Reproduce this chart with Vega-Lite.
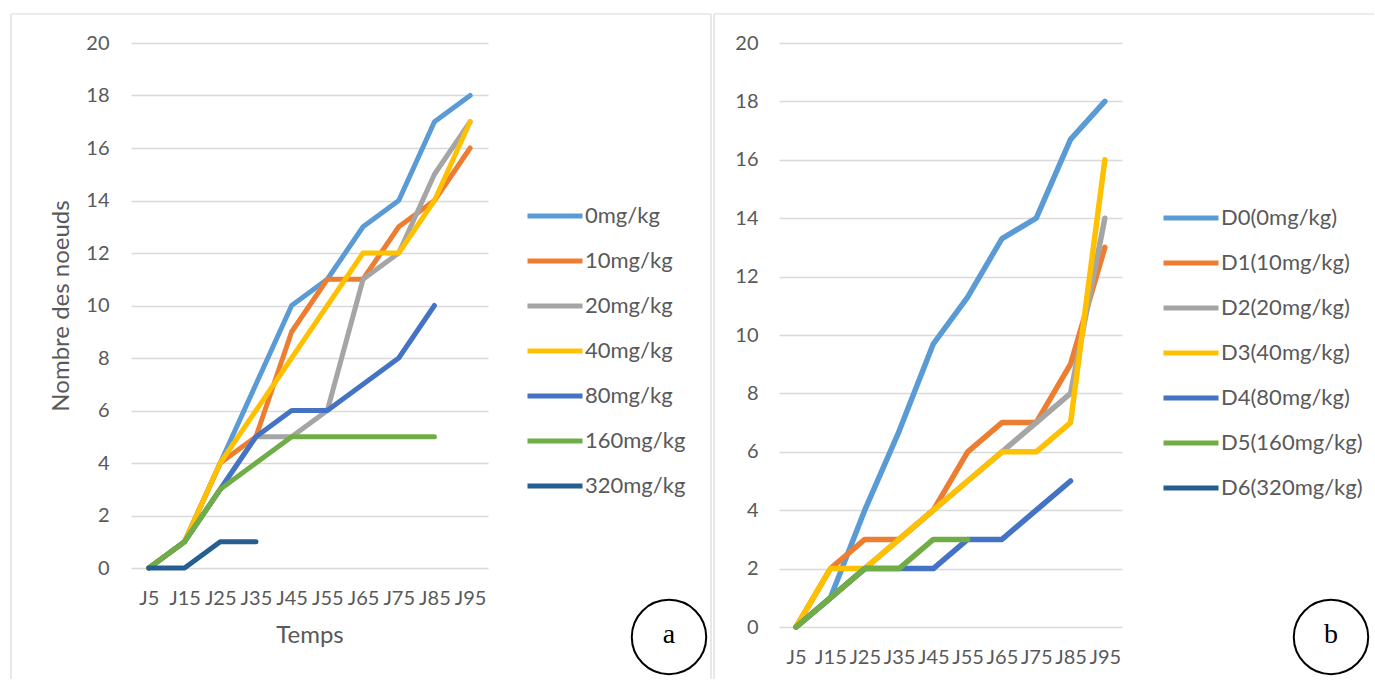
{
  "$schema": "https://vega.github.io/schema/vega-lite/v6.json",
  "background": "white",
  "padding": {"left": 10, "top": 13, "right": 0, "bottom": 0},
  "bounds": "flush",
  "spacing": 291,
  "config": {
    "view": {"stroke": null},
    "axis": {
      "labelFont": "Lato", "labelFontSize": 20, "labelColor": "#595959",
      "titleFont": "Lato", "titleFontSize": 24, "titleColor": "#595959", "titleFontWeight": "normal",
      "gridColor": "#d9d9d9", "gridWidth": 1.3, "ticks": false, "domain": false
    },
    "legend": {
      "orient": "none", "title": null, "symbolType": "stroke", "symbolSize": 3025,
      "symbolStrokeWidth": 5, "labelFont": "Lato", "labelFontSize": 22, "labelColor": "#595959",
      "labelOffset": 0, "padding": 0, "rowPadding": 4
    },
    "line": {"strokeCap": "round", "strokeJoin": "round"}
  },
  "datasets": {
    "a": [
      {"day": "J5", "group": "0mg/kg", "value": 0}, {"day": "J15", "group": "0mg/kg", "value": 1}, {"day": "J25", "group": "0mg/kg", "value": 4}, {"day": "J35", "group": "0mg/kg", "value": 7}, {"day": "J45", "group": "0mg/kg", "value": 10}, {"day": "J55", "group": "0mg/kg", "value": 11}, {"day": "J65", "group": "0mg/kg", "value": 13}, {"day": "J75", "group": "0mg/kg", "value": 14}, {"day": "J85", "group": "0mg/kg", "value": 17}, {"day": "J95", "group": "0mg/kg", "value": 18},
      {"day": "J5", "group": "10mg/kg", "value": 0}, {"day": "J15", "group": "10mg/kg", "value": 1}, {"day": "J25", "group": "10mg/kg", "value": 4}, {"day": "J35", "group": "10mg/kg", "value": 5}, {"day": "J45", "group": "10mg/kg", "value": 9}, {"day": "J55", "group": "10mg/kg", "value": 11}, {"day": "J65", "group": "10mg/kg", "value": 11}, {"day": "J75", "group": "10mg/kg", "value": 13}, {"day": "J85", "group": "10mg/kg", "value": 14}, {"day": "J95", "group": "10mg/kg", "value": 16},
      {"day": "J5", "group": "20mg/kg", "value": 0}, {"day": "J15", "group": "20mg/kg", "value": 1}, {"day": "J25", "group": "20mg/kg", "value": 3}, {"day": "J35", "group": "20mg/kg", "value": 5}, {"day": "J45", "group": "20mg/kg", "value": 5}, {"day": "J55", "group": "20mg/kg", "value": 6}, {"day": "J65", "group": "20mg/kg", "value": 11}, {"day": "J75", "group": "20mg/kg", "value": 12}, {"day": "J85", "group": "20mg/kg", "value": 15}, {"day": "J95", "group": "20mg/kg", "value": 17},
      {"day": "J5", "group": "40mg/kg", "value": 0}, {"day": "J15", "group": "40mg/kg", "value": 1}, {"day": "J25", "group": "40mg/kg", "value": 4}, {"day": "J35", "group": "40mg/kg", "value": 6}, {"day": "J45", "group": "40mg/kg", "value": 8}, {"day": "J55", "group": "40mg/kg", "value": 10}, {"day": "J65", "group": "40mg/kg", "value": 12}, {"day": "J75", "group": "40mg/kg", "value": 12}, {"day": "J85", "group": "40mg/kg", "value": 14}, {"day": "J95", "group": "40mg/kg", "value": 17},
      {"day": "J5", "group": "80mg/kg", "value": 0}, {"day": "J15", "group": "80mg/kg", "value": 1}, {"day": "J25", "group": "80mg/kg", "value": 3}, {"day": "J35", "group": "80mg/kg", "value": 5}, {"day": "J45", "group": "80mg/kg", "value": 6}, {"day": "J55", "group": "80mg/kg", "value": 6}, {"day": "J65", "group": "80mg/kg", "value": 7}, {"day": "J75", "group": "80mg/kg", "value": 8}, {"day": "J85", "group": "80mg/kg", "value": 10},
      {"day": "J5", "group": "160mg/kg", "value": 0}, {"day": "J15", "group": "160mg/kg", "value": 1}, {"day": "J25", "group": "160mg/kg", "value": 3}, {"day": "J35", "group": "160mg/kg", "value": 4}, {"day": "J45", "group": "160mg/kg", "value": 5}, {"day": "J55", "group": "160mg/kg", "value": 5}, {"day": "J65", "group": "160mg/kg", "value": 5}, {"day": "J75", "group": "160mg/kg", "value": 5}, {"day": "J85", "group": "160mg/kg", "value": 5},
      {"day": "J5", "group": "320mg/kg", "value": 0}, {"day": "J15", "group": "320mg/kg", "value": 0}, {"day": "J25", "group": "320mg/kg", "value": 1}, {"day": "J35", "group": "320mg/kg", "value": 1}
    ],
    "b": [
      {"day": "J5", "group": "D0(0mg/kg)", "value": 0}, {"day": "J15", "group": "D0(0mg/kg)", "value": 1}, {"day": "J25", "group": "D0(0mg/kg)", "value": 4}, {"day": "J35", "group": "D0(0mg/kg)", "value": 6.7}, {"day": "J45", "group": "D0(0mg/kg)", "value": 9.7}, {"day": "J55", "group": "D0(0mg/kg)", "value": 11.3}, {"day": "J65", "group": "D0(0mg/kg)", "value": 13.3}, {"day": "J75", "group": "D0(0mg/kg)", "value": 14}, {"day": "J85", "group": "D0(0mg/kg)", "value": 16.7}, {"day": "J95", "group": "D0(0mg/kg)", "value": 18},
      {"day": "J5", "group": "D1(10mg/kg)", "value": 0}, {"day": "J15", "group": "D1(10mg/kg)", "value": 2}, {"day": "J25", "group": "D1(10mg/kg)", "value": 3}, {"day": "J35", "group": "D1(10mg/kg)", "value": 3}, {"day": "J45", "group": "D1(10mg/kg)", "value": 4}, {"day": "J55", "group": "D1(10mg/kg)", "value": 6}, {"day": "J65", "group": "D1(10mg/kg)", "value": 7}, {"day": "J75", "group": "D1(10mg/kg)", "value": 7}, {"day": "J85", "group": "D1(10mg/kg)", "value": 9}, {"day": "J95", "group": "D1(10mg/kg)", "value": 13},
      {"day": "J5", "group": "D2(20mg/kg)", "value": 0}, {"day": "J15", "group": "D2(20mg/kg)", "value": 1}, {"day": "J25", "group": "D2(20mg/kg)", "value": 2}, {"day": "J35", "group": "D2(20mg/kg)", "value": 3}, {"day": "J45", "group": "D2(20mg/kg)", "value": 4}, {"day": "J55", "group": "D2(20mg/kg)", "value": 5}, {"day": "J65", "group": "D2(20mg/kg)", "value": 6}, {"day": "J75", "group": "D2(20mg/kg)", "value": 7}, {"day": "J85", "group": "D2(20mg/kg)", "value": 8}, {"day": "J95", "group": "D2(20mg/kg)", "value": 14},
      {"day": "J5", "group": "D3(40mg/kg)", "value": 0}, {"day": "J15", "group": "D3(40mg/kg)", "value": 2}, {"day": "J25", "group": "D3(40mg/kg)", "value": 2}, {"day": "J35", "group": "D3(40mg/kg)", "value": 3}, {"day": "J45", "group": "D3(40mg/kg)", "value": 4}, {"day": "J55", "group": "D3(40mg/kg)", "value": 5}, {"day": "J65", "group": "D3(40mg/kg)", "value": 6}, {"day": "J75", "group": "D3(40mg/kg)", "value": 6}, {"day": "J85", "group": "D3(40mg/kg)", "value": 7}, {"day": "J95", "group": "D3(40mg/kg)", "value": 16},
      {"day": "J5", "group": "D4(80mg/kg)", "value": 0}, {"day": "J15", "group": "D4(80mg/kg)", "value": 1}, {"day": "J25", "group": "D4(80mg/kg)", "value": 2}, {"day": "J35", "group": "D4(80mg/kg)", "value": 2}, {"day": "J45", "group": "D4(80mg/kg)", "value": 2}, {"day": "J55", "group": "D4(80mg/kg)", "value": 3}, {"day": "J65", "group": "D4(80mg/kg)", "value": 3}, {"day": "J75", "group": "D4(80mg/kg)", "value": 4}, {"day": "J85", "group": "D4(80mg/kg)", "value": 5},
      {"day": "J5", "group": "D5(160mg/kg)", "value": 0}, {"day": "J15", "group": "D5(160mg/kg)", "value": 1}, {"day": "J25", "group": "D5(160mg/kg)", "value": 2}, {"day": "J35", "group": "D5(160mg/kg)", "value": 2}, {"day": "J45", "group": "D5(160mg/kg)", "value": 3}, {"day": "J55", "group": "D5(160mg/kg)", "value": 3}
    ]
  },
  "hconcat": [
    {
      "width": 357,
      "height": 525,
      "layer": [
        {"data": {"values": [{"k": "frame"}]}, "mark": {"type": "rule", "color": "#d9d9d9", "strokeWidth": 1.2},
         "encoding": {"x": {"value": -120}, "y": {"value": -29}, "y2": {"value": 636}}},
        {"data": {"values": [{"k": "frame"}]}, "mark": {"type": "rule", "color": "#d9d9d9", "strokeWidth": 1.2},
         "encoding": {"x": {"value": -120}, "x2": {"value": 580}, "y": {"value": -29}}},
        {"data": {"values": [{"k": "frame"}]}, "mark": {"type": "rule", "color": "#d9d9d9", "strokeWidth": 1.2},
         "encoding": {"x": {"value": 580}, "y": {"value": -29}, "y2": {"value": 636}}},
        {
          "data": {"name": "a"},
          "mark": {"type": "line", "strokeWidth": 5},
          "encoding": {
            "x": {"field": "day", "type": "ordinal",
                  "sort": ["J5", "J15", "J25", "J35", "J45", "J55", "J65", "J75", "J85", "J95"],
                  "scale": {"type": "point", "padding": 0.5},
                  "axis": {"title": "Temps", "labelAngle": 0, "labelPadding": 20, "titlePadding": 15, "labelOverlap": false, "grid": false}},
            "y": {"field": "value", "type": "quantitative", "scale": {"domain": [0, 20]},
                  "axis": {"title": "Nombre des noeuds", "values": [0, 2, 4, 6, 8, 10, 12, 14, 16, 18, 20], "labelPadding": 22, "titlePadding": 12, "grid": true}},
            "color": {"field": "group", "type": "nominal",
                      "scale": {"domain": ["0mg/kg", "10mg/kg", "20mg/kg", "40mg/kg", "80mg/kg", "160mg/kg", "320mg/kg"],
                                "range": ["#5B9BD5", "#ED7D31", "#A5A5A5", "#FFC000", "#4472C4", "#70AD47", "#255E91"]},
                      "legend": {"legendX": 394, "legendY": 143}}
          }
        },
        {"data": {"values": [{"label": "a"}]}, "mark": {"type": "point", "shape": "circle", "filled": false, "stroke": "black", "strokeWidth": 2, "size": 5542, "opacity": 1},
         "encoding": {"x": {"value": 538}, "y": {"value": 594}}},
        {"data": {"values": [{"label": "a"}]}, "mark": {"type": "text", "font": "Liberation Serif", "fontSize": 28, "color": "black", "baseline": "middle", "align": "center"},
         "encoding": {"x": {"value": 538}, "y": {"value": 592}, "text": {"field": "label"}}}
      ]
    },
    {
      "width": 343,
      "height": 584,
      "layer": [
        {"data": {"values": [{"k": "frame"}]}, "mark": {"type": "rule", "color": "#d9d9d9", "strokeWidth": 1.2},
         "encoding": {"x": {"value": -65}, "y": {"value": -29}, "y2": {"value": 636}}},
        {"data": {"values": [{"k": "frame"}]}, "mark": {"type": "rule", "color": "#d9d9d9", "strokeWidth": 1.2},
         "encoding": {"x": {"value": -65}, "x2": {"value": 595}, "y": {"value": -29}}},
        {
          "data": {"name": "b"},
          "mark": {"type": "line", "strokeWidth": 5.5},
          "encoding": {
            "x": {"field": "day", "type": "ordinal",
                  "sort": ["J5", "J15", "J25", "J35", "J45", "J55", "J65", "J75", "J85", "J95"],
                  "scale": {"type": "point", "padding": 0.5},
                  "axis": {"title": null, "labelAngle": 0, "labelPadding": 20, "labelOverlap": false, "grid": false}},
            "y": {"field": "value", "type": "quantitative", "scale": {"domain": [0, 20]},
                  "axis": {"title": null, "values": [0, 2, 4, 6, 8, 10, 12, 14, 16, 18, 20], "labelPadding": 21, "grid": true}},
            "color": {"field": "group", "type": "nominal",
                      "scale": {"domain": ["D0(0mg/kg)", "D1(10mg/kg)", "D2(20mg/kg)", "D3(40mg/kg)", "D4(80mg/kg)", "D5(160mg/kg)", "D6(320mg/kg)"],
                                "range": ["#5B9BD5", "#ED7D31", "#A5A5A5", "#FFC000", "#4472C4", "#70AD47", "#255E91"]},
                      "legend": {"legendX": 382, "legendY": 145}}
          }
        },
        {"data": {"values": [{"label": "b"}]}, "mark": {"type": "point", "shape": "circle", "filled": false, "stroke": "black", "strokeWidth": 2, "size": 5542, "opacity": 1},
         "encoding": {"x": {"value": 552}, "y": {"value": 594}}},
        {"data": {"values": [{"label": "b"}]}, "mark": {"type": "text", "font": "Liberation Serif", "fontSize": 28, "color": "black", "baseline": "middle", "align": "center"},
         "encoding": {"x": {"value": 552}, "y": {"value": 592}, "text": {"field": "label"}}}
      ]
    }
  ],
  "resolve": {"scale": {"color": "independent", "x": "independent", "y": "independent"}, "legend": {"color": "independent"}}
}
